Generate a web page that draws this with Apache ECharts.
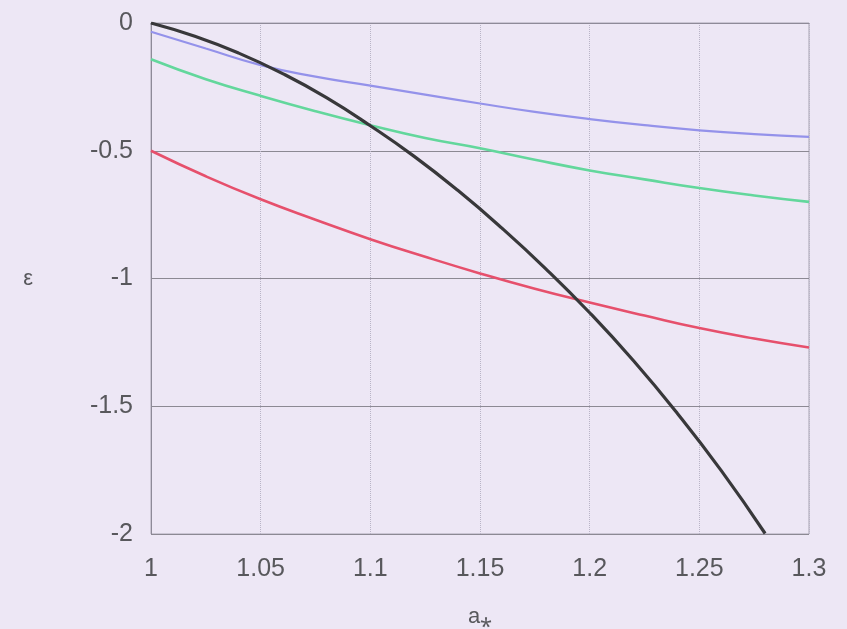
<!DOCTYPE html>
<html>
<head>
<meta charset="utf-8">
<script src="https://cdn.jsdelivr.net/npm/echarts@6/dist/echarts.min.js"></script>
<style>
html,body{margin:0;padding:0;background:#ede7f5;}
#c{width:847px;height:629px;}
</style>
</head>
<body>
<div id="c"></div>
<script>
// x positions (a*) and epsilon values
var aBlack   = [1.00, 1.02, 1.04, 1.06, 1.08, 1.10, 1.12, 1.14, 1.16, 1.18, 1.20, 1.22, 1.24, 1.26, 1.28];
var epsBlack = [0, -0.052, -0.118, -0.198, -0.292, -0.402, -0.522, -0.656, -0.803, -0.962, -1.134, -1.322, -1.528, -1.752, -1.998];

var aCurve   = [1.00, 1.025, 1.05, 1.075, 1.10, 1.125, 1.15, 1.175, 1.20, 1.225, 1.25, 1.275, 1.30];
var epsBlue  = [-0.034, -0.10, -0.165, -0.21, -0.245, -0.28, -0.315, -0.348, -0.376, -0.40, -0.42, -0.435, -0.446];
var epsGreen = [-0.142, -0.22, -0.285, -0.345, -0.40, -0.45, -0.49, -0.535, -0.577, -0.612, -0.646, -0.675, -0.70];
var epsRed   = [-0.50, -0.60, -0.69, -0.77, -0.846, -0.915, -0.98, -1.04, -1.094, -1.145, -1.194, -1.235, -1.27];

function pairs(xs, ys){ return xs.map(function(x,i){ return [x, ys[i]]; }); }

var chart = echarts.init(document.getElementById('c'), null, {renderer:'canvas'});
var FONT = 'Liberation Sans, Arial, sans-serif';
var labelFont = {color:'#58585c', fontSize:25, fontFamily:FONT};

chart.setOption({
  backgroundColor:'#ede7f5',
  animation:false,
  grid:{left:151, right:38, top:23, bottom:95, show:true, borderColor:'#a9a5b3', borderWidth:1,
        containLabel:false, outerBoundsMode:'none'},
  xAxis:{
    type:'value', min:1, max:1.3, interval:0.05,
    name:'a\u204E', nameLocation:'middle', nameGap:72,
    nameTextStyle:{color:'#58585c', fontSize:22, fontFamily:FONT, verticalAlign:'top'},
    axisLine:{show:true, lineStyle:{color:'#8e8a98', width:1}},
    axisTick:{show:false},
    axisLabel:Object.assign({margin:23, formatter:function(v){ return String(+v.toFixed(2)); }}, labelFont),
    splitLine:{show:true, lineStyle:{color:'#b9b4c6', type:'dotted', width:1}}
  },
  yAxis:{
    type:'value', min:-2, max:0, interval:0.5,
    name:'\u03B5', nameLocation:'middle', nameGap:118, nameRotate:0,
    nameTextStyle:{color:'#58585c', fontSize:22, fontFamily:FONT},
    axisLine:{show:true, lineStyle:{color:'#8e8a98', width:1}},
    axisTick:{show:false},
    axisLabel:Object.assign({margin:18, formatter:function(v){ return String(+v.toFixed(2)); }}, labelFont),
    splitLine:{show:true, lineStyle:{color:'#8c8993', width:1}}
  },
  series:[
    {type:'line', data:pairs(aCurve, epsBlue), smooth:0.5, symbol:'none', lineStyle:{color:'#9492ea', width:2.2}},
    {type:'line', data:pairs(aCurve, epsGreen), smooth:0.5, symbol:'none', lineStyle:{color:'#63d79c', width:2.6}},
    {type:'line', data:pairs(aCurve, epsRed), smooth:0.5, symbol:'none', lineStyle:{color:'#e6506c', width:2.6}},
    {type:'line', data:pairs(aBlack, epsBlack), smooth:0.5, symbol:'none', lineStyle:{color:'#38383a', width:3.2}}
  ]
});
</script>
</body>
</html>
